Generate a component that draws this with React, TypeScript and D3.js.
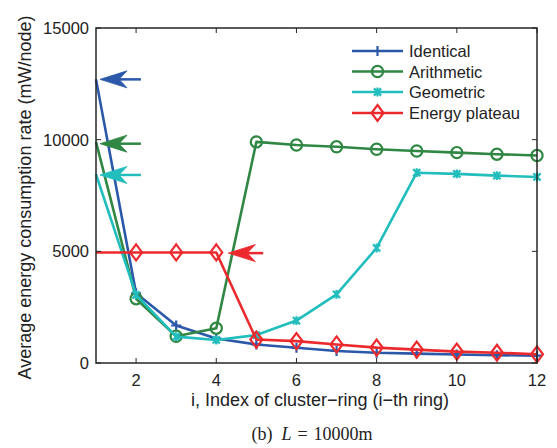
import React from "react";
import * as d3 from "d3";

// Ring index (x) and average energy consumption per scheme (mW/node)
const rings = [1, 2, 3, 4, 5, 6, 7, 8, 9, 10, 11, 12];
const identical = [12700, 3120, 1680, 1100, 830, 680, 540, 460, 420, 380, 350, 330];
const arithmetic = [9900, 2880, 1200, 1560, 9900, 9760, 9680, 9570, 9490, 9420, 9350, 9290];
const geometric = [8450, 3050, 1180, 1030, 1250, 1900, 3070, 5150, 8520, 8470, 8390, 8330];
const plateau = [4950, 4950, 4950, 4950, 1050, 980, 830, 690, 600, 510, 460, 390];

const seriesNames = ["Identical", "Arithmetic", "Geometric", "Energy plateau"];
const seriesColors = ["#2b58a9", "#2f8743", "#22bdbd", "#ec2a2e"];
const seriesMarkers = ["plus", "circle", "star", "diamond"];

// Arrows marking the first-ring value of each scheme: [y, tipX, tailX]
const arrowY = [12700, 9820, 8420, 4920];
const arrowTip = [1.1, 1.1, 1.1, 4.3];
const arrowTail = [2.12, 2.12, 2.12, 5.17];

const xTicks = [2, 4, 6, 8, 10, 12];
const yTicks = [0, 5000, 10000, 15000];

const W = 557;
const H = 448;
const plot = { left: 96, right: 537, top: 28, bottom: 363 };
const FONT = "'Liberation Sans', Arial, Helvetica, sans-serif";
const axisColor = "#262626";

function Marker({ kind, x, y, color }: { kind: string; x: number; y: number; color: string }) {
  if (kind === "plus") {
    return (
      <path d={`M${x - 5},${y}H${x + 5}M${x},${y - 5}V${y + 5}`} stroke={color} strokeWidth={2.2} fill="none" />
    );
  }
  if (kind === "circle") {
    return <circle cx={x} cy={y} r={5.6} stroke={color} strokeWidth={2.2} fill="none" />;
  }
  if (kind === "star") {
    const s = 3.6;
    return (
      <path
        d={`M${x - s},${y - s}L${x + s},${y + s}M${x - s},${y + s}L${x + s},${y - s}M${x},${y - s - 0.8}V${y + s + 0.8}`}
        stroke={color}
        strokeWidth={2.2}
        fill="none"
      />
    );
  }
  // diamond
  return (
    <path
      d={`M${x},${y - 8}L${x + 6},${y}L${x},${y + 8}L${x - 6},${y}Z`}
      stroke={color}
      strokeWidth={2.2}
      fill="none"
    />
  );
}

function Arrow({ tipX, tailX, y, color }: { tipX: number; tailX: number; y: number; color: string }) {
  const len = 27;
  const half = 8.5;
  const notch = 19;
  const head = `M${tipX},${y}L${tipX + len},${y - half}L${tipX + notch},${y}L${tipX + len},${y + half}Z`;
  return (
    <g>
      <line x1={tipX + notch} x2={tailX} y1={y} y2={y} stroke={color} strokeWidth={2.5} />
      <path d={head} fill={color} stroke={color} strokeWidth={0.8} strokeLinejoin="miter" />
    </g>
  );
}

export default function App() {
  const x = d3.scaleLinear().domain([1, 12]).range([plot.left, plot.right]);
  const y = d3.scaleLinear().domain([0, 15000]).range([plot.bottom, plot.top]);
  const line = d3
    .line<number>()
    .x((_, i) => x(rings[i]))
    .y((d) => y(d));

  const allSeries = [identical, arithmetic, geometric, plateau];
  const tickLen = 5;

  const legendX1 = 352;
  const legendX2 = 403;
  const legendRows = [51, 71.5, 92, 113];

  return (
    <svg width={W} height={H} style={{ display: "block", position: "absolute", left: 0, top: 0 }}>
      <rect width={W} height={H} fill="#fff" />
      {/* series; the first ring sits on the left border and carries no marker */}
      {allSeries.map((s, k) => (
        <g key={k}>
          <path d={line(s) || ""} fill="none" stroke={seriesColors[k]} strokeWidth={2.6} strokeLinejoin="round" />
          {s.map((v, i) =>
            i === 0 ? null : (
              <Marker key={i} kind={seriesMarkers[k]} x={x(rings[i])} y={y(v)} color={seriesColors[k]} />
            )
          )}
        </g>
      ))}
      {/* arrows */}
      {arrowY.map((v, k) => (
        <Arrow key={k} tipX={x(arrowTip[k])} tailX={x(arrowTail[k])} y={y(v)} color={seriesColors[k]} />
      ))}
      {/* axes box */}
      <rect
        x={plot.left}
        y={plot.top}
        width={plot.right - plot.left}
        height={plot.bottom - plot.top}
        fill="none"
        stroke={axisColor}
        strokeWidth={1.5}
      />
      {xTicks.map((t) => (
        <g key={t}>
          <line x1={x(t)} x2={x(t)} y1={plot.bottom} y2={plot.bottom - tickLen} stroke={axisColor} strokeWidth={1} />
          <line x1={x(t)} x2={x(t)} y1={plot.top} y2={plot.top + tickLen} stroke={axisColor} strokeWidth={1} />
          <text x={x(t)} y={386} textAnchor="middle" fontFamily={FONT} fontSize={16.5} fill="#222">
            {t}
          </text>
        </g>
      ))}
      {yTicks.map((t) => (
        <g key={t}>
          <line x1={plot.left} x2={plot.left + tickLen} y1={y(t)} y2={y(t)} stroke={axisColor} strokeWidth={1} />
          <line x1={plot.right} x2={plot.right - tickLen} y1={y(t)} y2={y(t)} stroke={axisColor} strokeWidth={1} />
          <text x={89} y={y(t) + 6} textAnchor="end" fontFamily={FONT} fontSize={16.5} fill="#222">
            {t}
          </text>
        </g>
      ))}
      {/* axis titles */}
      <text x={320} y={406} textAnchor="middle" fontFamily={FONT} fontSize={18} fill="#222">
        i, Index of cluster−ring (i−th ring)
      </text>
      <text
        transform={`translate(31,${(plot.top + plot.bottom) / 2 + 2}) rotate(-90)`}
        textAnchor="middle"
        fontFamily={FONT}
        fontSize={18}
        fill="#222"
      >
        Average energy consumption rate (mW/node)
      </text>
      {/* legend */}
      {seriesNames.map((name, k) => (
        <g key={name}>
          <line
            x1={legendX1}
            x2={legendX2}
            y1={legendRows[k]}
            y2={legendRows[k]}
            stroke={seriesColors[k]}
            strokeWidth={2.6}
          />
          <Marker kind={seriesMarkers[k]} x={(legendX1 + legendX2) / 2} y={legendRows[k]} color={seriesColors[k]} />
          <text x={409} y={legendRows[k] + 6} fontFamily={FONT} fontSize={16.5} fill="#222">
            {name}
          </text>
        </g>
      ))}
      {/* caption */}
      <text x={312} y={440} textAnchor="middle" fontFamily="'Liberation Serif', 'DejaVu Serif', serif" fontSize={18} fill="#222">
        (b)
        <tspan dx={9} fontStyle="italic">L</tspan>
        <tspan dx={6}>=</tspan>
        <tspan dx={6}>10000m</tspan>
      </text>
    </svg>
  );
}
